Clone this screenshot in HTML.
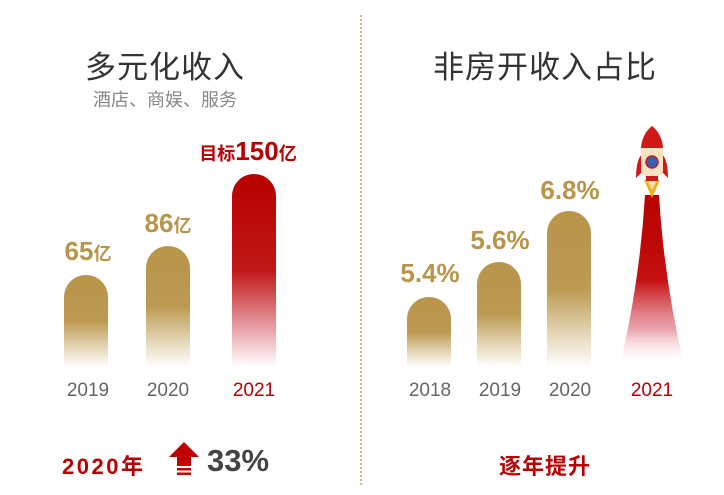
<!DOCTYPE html>
<html><head><meta charset="utf-8"><style>
*{margin:0;padding:0}
body{width:724px;height:495px;background:#fff;position:relative;overflow:hidden;font-family:"Liberation Sans","Noto Sans CJK SC",sans-serif}
.a{position:absolute;white-space:nowrap}
.t{font-size:31px;color:#333;transform:translateX(-50%);font-weight:normal;letter-spacing:1px}
.bar{position:absolute;width:44px;border-radius:22px 22px 0 0}
.g{background:linear-gradient(#b8954a 0%,#bc9a52 50%,rgba(205,178,120,0.55) 78%,rgba(255,255,255,0) 100%)}
.r{background:linear-gradient(#b80000 0%,#c01818 50%,rgba(215,100,110,0.6) 80%,rgba(255,255,255,0) 100%)}
.v{font-weight:bold;color:#b8954a;font-size:26px;transform:translateX(-50%)}
.v small{font-size:18px}
.y{font-size:19px;color:#666;transform:translateX(-50%)}
</style></head><body>
<div class="a" style="left:360px;top:15px;height:470px;border-left:2px dotted #d4bc85"></div>

<div class="a t" style="left:165px;top:42px">多元化收入</div>
<div class="a" style="left:165px;top:86px;font-size:18px;color:#888;transform:translateX(-50%)">酒店、商娱、服务</div>
<div class="a t" style="left:545px;top:42px">非房开收入占比</div>

<div class="bar g" style="left:64px;top:275px;height:92px"></div>
<div class="bar g" style="left:146px;top:246px;height:121px"></div>
<div class="bar r" style="left:232px;top:174px;height:193px"></div>
<div class="a v" style="left:88px;top:236px">65<small>亿</small></div>
<div class="a v" style="left:168px;top:208px">86<small>亿</small></div>
<div class="a v" style="left:248px;top:136px;color:#b80000">
<small>目标</small>150<small>亿</small></div>

<div class="a y" style="left:88px;top:380px">2019</div>
<div class="a y" style="left:168px;top:380px">2020</div>
<div class="a y" style="left:254px;top:380px;color:#b80000">2021</div>

<div class="a" style="left:62px;top:449px;font-size:22px;font-weight:bold;color:#b80000;letter-spacing:2.5px">2020年</div>
<svg class="a" style="left:168px;top:442px" width="32" height="34" viewBox="0 0 32 34">
<polygon points="16,0 31,15 23,15 23,24 9,24 9,15 1,15" fill="#c00000"/>
<rect x="9" y="26" width="14" height="2.5" fill="#c00000"/><rect x="9" y="30.5" width="14" height="2.5" fill="#c00000"/></svg>
<div class="a" style="left:207px;top:443px;font-size:31px;font-weight:bold;color:#444">33%</div>

<div class="bar g" style="left:407px;top:297px;height:70px"></div>
<div class="bar g" style="left:477px;top:262px;height:105px"></div>
<div class="bar g" style="left:547px;top:211px;height:156px"></div>
<div class="a v" style="left:430px;top:258px">5.4%</div>
<div class="a v" style="left:500px;top:225px">5.6%</div>
<div class="a v" style="left:570px;top:175px">6.8%</div>

<svg class="a" style="left:612px;top:120px" width="80" height="250" viewBox="0 0 80 250">
<defs><linearGradient id="tr" x1="0" y1="0" x2="0" y2="1">
<stop offset="0" stop-color="#b80000"/><stop offset="0.5" stop-color="#c41010"/><stop offset="0.8" stop-color="#dd7080" stop-opacity="0.6"/><stop offset="1" stop-color="#fff" stop-opacity="0"/></linearGradient></defs>
<path d="M33,75 L47,75 Q52,160 72,245 L8,245 Q28,160 33,75Z" fill="url(#tr)"/>
<polygon points="32,60 48,60 40,78" fill="#f0b020"/>
<polygon points="35,60 45,60 40,70" fill="#fbe3b0"/>
<path d="M30,34 Q24,40 24,58 L30,52Z" fill="#d01818"/>
<path d="M50,34 Q56,40 56,58 L50,52Z" fill="#d01818"/>
<path d="M40,6 Q30,14 29,28 L51,28 Q50,14 40,6Z" fill="#d01818"/>
<path d="M29,28 L51,28 L51,50 Q51,56 46,56 L34,56 Q29,56 29,50Z" fill="#f6e4c0"/>
<circle cx="40" cy="42" r="6" fill="#3a5fb0" stroke="#c02020" stroke-width="1.5"/>
<rect x="34" y="56" width="12" height="5" fill="#d01818"/>
</svg>

<div class="a y" style="left:430px;top:380px">2018</div>
<div class="a y" style="left:500px;top:380px">2019</div>
<div class="a y" style="left:570px;top:380px">2020</div>
<div class="a y" style="left:652px;top:380px;color:#b80000">2021</div>

<div class="a" style="left:545px;top:449px;font-size:22px;font-weight:bold;color:#b80000;transform:translateX(-50%);letter-spacing:1px">逐年提升</div>
</body></html>
